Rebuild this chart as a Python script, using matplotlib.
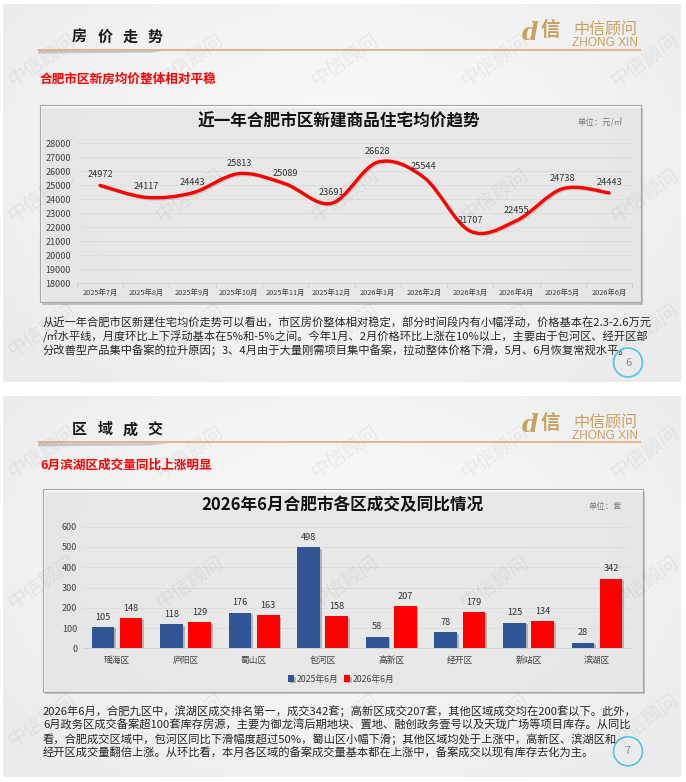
import numpy as np
import matplotlib
matplotlib.use('Agg')
import matplotlib.pyplot as plt
from matplotlib.path import Path
from matplotlib.patches import PathPatch, Rectangle, Circle, Polygon
import matplotlib.patheffects as pe

plt.rcParams['font.family'] = ['Noto Sans CJK SC', 'DejaVu Sans']

# ---------------- data ----------------
months = ['2025年7月', '2025年8月', '2025年9月', '2025年10月', '2025年11月', '2025年12月',
          '2026年1月', '2026年2月', '2026年3月', '2026年4月', '2026年5月', '2026年6月']
avg_price = [24972, 24117, 24443, 25813, 25089, 23691, 26628, 25544, 21707, 22455, 24738, 24443]
price_ticks = [18000, 19000, 20000, 21000, 22000, 23000, 24000, 25000, 26000, 27000, 28000]

districts = ['瑶海区', '庐阳区', '蜀山区', '包河区', '高新区', '经开区', '新站区', '滨湖区']
deals_2025 = [105, 118, 176, 498, 58, 78, 125, 28]
deals_2026 = [148, 129, 163, 158, 207, 179, 134, 342]
deal_ticks = [0, 100, 200, 300, 400, 500, 600]
series_names = ['2025年6月', '2026年6月']

slide1_title = '房价走势'
slide1_sub = '合肥市区新房均价整体相对平稳'
chart1_title = '近一年合肥市区新建商品住宅均价趋势'
chart1_unit = '单位：元/㎡'
slide1_text = [
    '从近一年合肥市区新建住宅均价走势可以看出，市区房价整体相对稳定，部分时间段内有小幅浮动，价格基本在2.3-2.6万元',
    '/㎡水平线，月度环比上下浮动基本在5%和-5%之间。今年1月、2月价格环比上涨在10%以上，主要由于包河区、经开区部',
    '分改善型产品集中备案的拉升原因；3、4月由于大量刚需项目集中备案，拉动整体价格下滑，5月、6月恢复常规水平。',
]
slide2_title = '区域成交'
slide2_sub = '6月滨湖区成交量同比上涨明显'
chart2_title = '2026年6月合肥市各区成交及同比情况'
chart2_unit = '单位：套'
slide2_text = [
    '2026年6月，合肥九区中，滨湖区成交排名第一，成交342套；高新区成交207套，其他区域成交均在200套以下。此外，',
    '6月政务区成交备案超100套库存房源，主要为御龙湾后期地块、置地、融创政务壹号以及天珑广场等项目库存。从同比',
    '看，合肥成交区域中，包河区同比下滑幅度超过50%，蜀山区小幅下滑；其他区域均处于上涨中，高新区、滨湖区和',
    '经开区成交量翻倍上涨。从环比看，本月各区域的备案成交量基本都在上涨中，备案成交以现有库存去化为主。',
]

# ---------------- figure ----------------
W, H = 686, 782
fig = plt.figure(figsize=(W / 100, H / 100), dpi=100)
fig.patch.set_facecolor('white')


def frac(x0, y0, x1, y1):
    return [x0 / W, 1 - y1 / H, (x1 - x0) / W, (y1 - y0) / H]


bg = fig.add_axes([0, 0, 1, 1])
bg.set_zorder(0)


def slide_bg(y0, y1, x0=3, x1=681):
    ny, nx = 120, 240
    yy, xx = np.mgrid[0:1:ny * 1j, 0:1:nx * 1j]
    r = np.sqrt(((xx - 0.5) / 0.62) ** 2 + ((yy - 0.42) / 0.75) ** 2)
    r = np.clip(r, 0, 1)
    c = 0.975 - 0.05 * r ** 1.5
    img = np.dstack([c, c, c])
    bg.imshow(img, extent=[x0, x1, y1, y0], aspect='auto', interpolation='bilinear', zorder=0)


slide_bg(4, 382)
slide_bg(396, 777)
bg.set_xlim(0, W)
bg.set_ylim(H, 0)
bg.axis('off')

GOLD = '#C8A15E'


def header(title, ty, ly, sy, sub):
    for k, ch in enumerate(title):
        bg.text(79.5 + 25.2 * k, ty, ch, fontsize=10.8, fontweight='bold', color='#1a1a1a',
                ha='center', va='center', zorder=3)
    bg.add_patch(Polygon([(38, ly + 0.8), (168, ly + 0.8), (150, ly + 3.2), (38, ly + 4.0)],
                         closed=True, fc='#606060', ec='none', alpha=0.28, zorder=2))
    bg.plot([38, 641], [ly, ly], color='#E6AE84', lw=1.3, solid_capstyle='butt', zorder=3)
    bg.text(530, ly - 17, 'd', fontsize=17, fontweight='bold', fontstyle='italic',
            family='DejaVu Serif', color=GOLD, ha='center', va='center', zorder=3)
    bg.text(550, ly - 18, '信', fontsize=14, fontweight='bold', color=GOLD,
            ha='center', va='center', zorder=3)
    bg.text(605, ly - 20.5, '中信顾问', fontsize=11.5, color=GOLD, ha='center', va='center', zorder=3)
    bg.text(605.5, ly - 6.5, 'ZHONG XIN', fontsize=8.6, family='Liberation Sans', color=GOLD,
            ha='center', va='center', zorder=3)
    bg.text(40, sy, sub, fontsize=9.1, fontweight='bold', color='#FF0000', ha='left', va='center', zorder=3)


header(slide1_title, 36.7, 49.5, 79, slide1_sub)
header(slide2_title, 429.3, 442.3, 465, slide2_sub)


def chart_box(x0, y0, x1, y1):
    bg.add_patch(Rectangle((x0 + 2, y0 + 2.5), x1 - x0, y1 - y0, fc='#6f6f6f', ec='none', alpha=0.35, zorder=1))
    bg.add_patch(Rectangle((x0, y0), x1 - x0, y1 - y0, fc=(1, 1, 1, 0.6), ec='#A6A6A6', lw=0.8, zorder=2))


chart_box(40, 105, 641, 302)
chart_box(42.5, 489, 643, 691.5)

bg.text(339, 121.7, chart1_title, fontsize=12, fontweight='bold', color='#111111', ha='center', va='center', zorder=3)
bg.text(600, 122.7, chart1_unit, fontsize=6, color='#7a7a7a', ha='center', va='center', zorder=3)
bg.text(342.6, 505, chart2_title, fontsize=12, fontweight='bold', color='#111111', ha='center', va='center', zorder=3)
bg.text(605, 506, chart2_unit, fontsize=6, color='#7a7a7a', ha='center', va='center', zorder=3)

for k, line in enumerate(slide1_text):
    bg.text(43, 323 + 13.4 * k, line, fontsize=8.1, color='#262626', ha='left', va='center', zorder=3)
for k, line in enumerate(slide2_text):
    bg.text(43, 711 + 14 * k, line, fontsize=8.1, color='#262626', ha='left', va='center', zorder=3)

for (cx, cy, num) in [(628, 362.5, '6'), (628, 751.3, '7')]:
    bg.add_patch(Circle((cx, cy), 14.5, fc='none', ec='#52C3EA', lw=1.2, zorder=3))
    bg.text(cx, cy, num, fontsize=8, color='#8c8c8c', ha='center', va='center', zorder=3)

# ---------------- line chart ----------------
ax1 = fig.add_axes(frac(76.9, 143, 632.1, 283))
ax1.set_zorder(2)
ax1.set_facecolor('none')
ax1.set_xlim(-0.5, len(months) - 0.5)
ax1.set_ylim(price_ticks[0], price_ticks[-1])
ax1.set_yticks(price_ticks)
ax1.set_xticks(range(len(months)))
ax1.set_xticklabels(months)
ax1.set_xticks(np.arange(-0.5, len(months), 1), minor=True)
ax1.tick_params(axis='x', which='major', length=0, pad=4.2, labelsize=5.3, labelcolor='#404040')
ax1.tick_params(axis='x', which='minor', length=3, color='#c8c8c8', width=0.6)
ax1.tick_params(axis='y', length=0, pad=4.3, labelsize=6.5, labelcolor='#404040')
ax1.grid(axis='y', color='#dcdcdc', lw=0.6)
ax1.set_axisbelow(True)
for s in ['top', 'right', 'left']:
    ax1.spines[s].set_visible(False)
ax1.spines['bottom'].set_color('#d0d0d0')
ax1.spines['bottom'].set_linewidth(0.6)


def smooth_path(xs, ys, t=1 / 6):
    pts = np.column_stack([xs, ys]).astype(float)
    n = len(pts)
    verts = [pts[0]]
    codes = [Path.MOVETO]
    for i in range(n - 1):
        p0 = pts[i - 1] if i > 0 else pts[i]
        p1 = pts[i]
        p2 = pts[i + 1]
        p3 = pts[i + 2] if i + 2 < n else pts[i + 1]
        verts += [p1 + (p2 - p0) * t, p2 - (p3 - p1) * t, p2]
        codes += [Path.CURVE4] * 3
    return Path(verts, codes)


xs = np.arange(len(months))
ax1.add_patch(PathPatch(smooth_path(xs, avg_price), fill=False, ec='#FF0000', lw=2.4,
                        capstyle='round', joinstyle='round', zorder=3,
                        path_effects=[pe.SimpleLineShadow(offset=(0.8, -0.8), alpha=0.15), pe.Normal()]))
for i, v in enumerate(avg_price):
    ax1.annotate(str(v), (i, v), xytext=(0, 7.6), textcoords='offset points',
                 ha='center', va='center', fontsize=6.6, color='#333333', zorder=4)

# ---------------- bar chart ----------------
ax2 = fig.add_axes(frac(82.7, 526.7, 631.3, 648.3))
ax2.set_zorder(2)
ax2.set_facecolor('none')
xb = np.arange(len(districts))
shadow = [pe.SimplePatchShadow(offset=(1.3, -1.0), shadow_rgbFace='#000000', alpha=0.22), pe.Normal()]
b1 = ax2.bar(xb - 0.205, deals_2025, 0.33, color='#2F5597', zorder=3, path_effects=shadow,
             label=series_names[0])
b2 = ax2.bar(xb + 0.205, deals_2026, 0.33, color='#FF0000', zorder=3, path_effects=shadow,
             label=series_names[1])
for i in range(len(districts)):
    ax2.annotate(str(deals_2025[i]), (xb[i] - 0.205, deals_2025[i]), xytext=(0, 7.2),
                 textcoords='offset points', ha='center', va='center', fontsize=6.6, color='#333333')
    ax2.annotate(str(deals_2026[i]), (xb[i] + 0.205, deals_2026[i]), xytext=(0, 7.2),
                 textcoords='offset points', ha='center', va='center', fontsize=6.6, color='#333333')
ax2.set_xlim(-0.5, len(districts) - 0.5)
ax2.set_ylim(deal_ticks[0], deal_ticks[-1])
ax2.set_yticks(deal_ticks)
ax2.set_xticks(xb)
ax2.set_xticklabels(districts)
ax2.tick_params(axis='x', length=0, pad=5.5, labelsize=6.3, labelcolor='#404040')
ax2.tick_params(axis='y', length=0, pad=4.0, labelsize=6.5, labelcolor='#404040')
ax2.grid(axis='y', color='#dcdcdc', lw=0.6)
ax2.set_axisbelow(True)
for s in ['top', 'right', 'left']:
    ax2.spines[s].set_visible(False)
ax2.spines['bottom'].set_color('#d0d0d0')
ax2.spines['bottom'].set_linewidth(0.6)

leg = fig.legend(handles=[b1, b2], labels=series_names, loc='center',
                 bbox_to_anchor=(341 / W, 1 - 679 / H), ncol=2, frameon=False,
                 fontsize=6.3, handlelength=0.7, handleheight=0.7, handletextpad=0.3,
                 columnspacing=0.6, borderpad=0)
for t in leg.get_texts():
    t.set_color('#404040')

# ---------------- watermarks ----------------
wm = fig.add_axes([0, 0, 1, 1])
wm.set_zorder(6)
wm.set_xlim(0, W)
wm.set_ylim(H, 0)
wm.axis('off')
for rows in ([60, 195, 330], [452, 582, 720]):
    for y in rows:
        for x in [42, 190, 345, 495, 645]:
            wm.text(x, y, '中信顾问', fontsize=14, rotation=35, color='#000000', alpha=0.05,
                    ha='center', va='center')

fig.savefig('out.png', dpi=100)
